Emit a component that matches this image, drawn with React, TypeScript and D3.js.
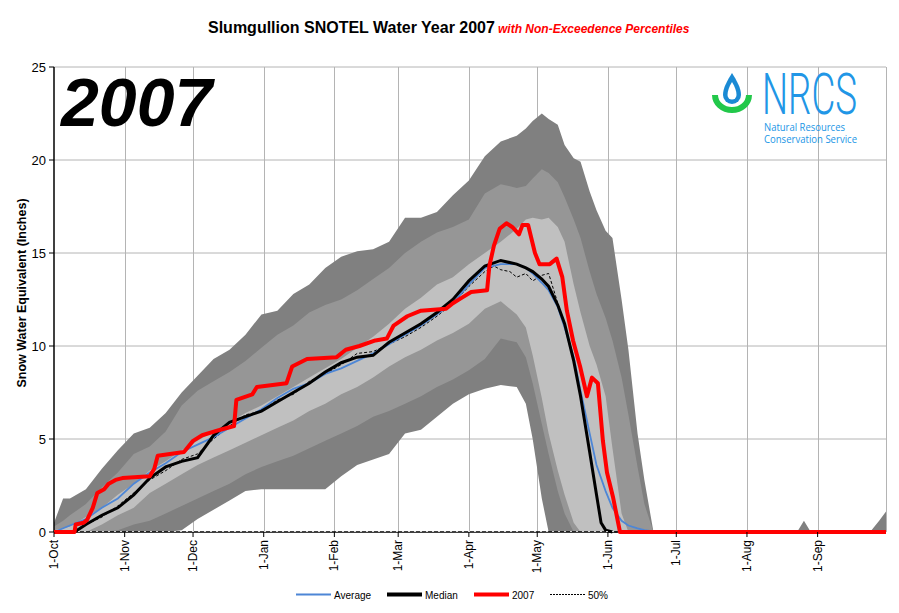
import React from "react";
import * as d3 from "d3";

// ---------- DATA ----------
const monthTickDays = [0, 31, 61, 92, 123, 151, 182, 212, 243, 273, 304, 335];
const monthTickLabels = ["1-Oct", "1-Nov", "1-Dec", "1-Jan", "1-Feb", "1-Mar", "1-Apr", "1-May", "1-Jun", "1-Jul", "1-Aug", "1-Sep"];
const yTicks = [0, 5, 10, 15, 20, 25];

const bandDays = [0, 4, 7, 14, 21, 28, 35, 42, 49, 56, 63, 70, 77, 84, 91, 98, 105, 112, 119, 126, 133, 140, 147, 154, 161, 168, 175, 182, 189, 196, 203, 207, 210, 214, 217, 221, 224, 228, 231, 235, 238, 242, 245, 249, 252, 256, 259, 263, 266, 300, 326, 329, 332, 358, 362, 365];
const bandMax = [0.5, 1.8, 1.8, 2.3, 3.4, 4.4, 5.3, 5.6, 6.4, 7.5, 8.4, 9.3, 9.8, 10.6, 11.7, 11.9, 12.8, 13.3, 14.2, 14.8, 15.1, 15.2, 15.6, 16.9, 16.9, 17.2, 18.1, 18.9, 20.2, 21.0, 21.3, 21.7, 22.1, 22.5, 22.2, 21.9, 20.8, 20.1, 19.9, 18.3, 17.3, 16.2, 15.8, 12.5, 9.8, 5.3, 2.8, 0, 0, 0, 0, 0.6, 0, 0, 0.6, 1.1];
const bandP90 = [0.3, 0.6, 0.9, 1.5, 2.4, 3.2, 4.2, 4.6, 5.4, 6.8, 7.6, 8.1, 8.6, 9.2, 9.9, 10.6, 11.1, 11.8, 12.2, 12.5, 13.0, 13.6, 14.2, 15.0, 15.6, 16.1, 16.4, 16.8, 18.2, 18.7, 18.5, 18.6, 19.0, 19.5, 19.3, 18.8, 18.0, 16.8, 15.8, 14.0, 12.8, 11.5, 10.3, 8.3, 6.3, 3.5, 1.5, 0, 0, 0, 0, 0, 0, 0, 0, 0];
const bandP70 = [0.1, 0.2, 0.3, 0.8, 1.3, 2.0, 2.6, 3.3, 3.8, 4.4, 4.9, 5.4, 5.9, 6.4, 6.8, 7.3, 7.8, 8.3, 8.8, 9.3, 9.9, 10.5, 11.2, 12.0, 12.6, 13.3, 13.7, 14.4, 15.0, 15.6, 16.3, 16.8, 16.9, 16.8, 16.9, 16.4, 15.6, 13.3, 11.8, 10.0, 9.0, 7.3, 4.5, 1.0, 0, 0, 0, 0, 0, 0, 0, 0, 0, 0, 0, 0];
const bandP30 = [0, 0, 0, 0, 0.4, 0.9, 1.3, 2.1, 2.6, 3.1, 3.6, 4.0, 4.4, 4.8, 5.2, 5.6, 6.0, 6.5, 6.9, 7.4, 7.8, 8.3, 8.9, 9.4, 9.8, 10.3, 10.7, 11.2, 12.0, 12.4, 11.7, 11.0, 9.5, 7.2, 5.3, 3.3, 2.0, 0.5, 0, 0, 0, 0, 0, 0, 0, 0, 0, 0, 0, 0, 0, 0, 0, 0, 0, 0];
const bandP10 = [0, 0, 0, 0, 0, 0.1, 0.4, 0.6, 1.0, 1.4, 1.8, 2.2, 2.6, 3.1, 3.5, 3.8, 4.1, 4.5, 4.9, 5.3, 5.7, 6.2, 6.5, 6.9, 7.3, 7.8, 8.2, 8.7, 9.3, 10.4, 10.2, 9.4, 8.0, 5.8, 4.2, 2.2, 1.0, 0, 0, 0, 0, 0, 0, 0, 0, 0, 0, 0, 0, 0, 0, 0, 0, 0, 0, 0];
const bandMin = [0, 0, 0, 0, 0, 0, 0, 0, 0, 0.1, 0.7, 1.2, 1.7, 2.2, 2.3, 2.3, 2.3, 2.3, 2.3, 3.0, 3.6, 3.9, 4.2, 5.3, 5.5, 6.2, 6.9, 7.4, 7.7, 7.9, 7.8, 6.9, 5.0, 1.8, 0, 0, 0, 0, 0, 0, 0, 0, 0, 0, 0, 0, 0, 0, 0, 0, 0, 0, 0, 0, 0, 0];

const averageSeries: [number, number][] = [[0, 0], [7, 0.35], [14, 0.7], [21, 1.3], [28, 1.8], [35, 2.6], [42, 3.2], [49, 3.7], [56, 4.3], [63, 4.7], [70, 5.1], [77, 5.6], [84, 6.1], [91, 6.6], [98, 7.2], [105, 7.7], [112, 8.0], [119, 8.5], [126, 8.8], [133, 9.2], [140, 9.6], [147, 10.1], [154, 10.6], [161, 11.1], [168, 11.7], [175, 12.3], [182, 13.3], [189, 14.2], [196, 14.4], [203, 14.4], [207, 14.2], [210, 13.9], [214, 13.4], [217, 13.0], [221, 12.1], [224, 11.0], [228, 9.4], [231, 7.6], [235, 5.3], [238, 3.6], [242, 2.2], [245, 1.3], [249, 0.6], [252, 0.35], [256, 0.2], [259, 0.1], [263, 0.03], [266, 0]];
const medianSeries: [number, number][] = [[0, 0], [9, 0], [14, 0.4], [21, 0.9], [28, 1.3], [35, 2.0], [42, 2.9], [49, 3.5], [56, 3.8], [63, 4.0], [70, 5.2], [77, 5.9], [84, 6.2], [91, 6.5], [98, 7.0], [105, 7.5], [112, 8.0], [119, 8.6], [126, 9.1], [133, 9.4], [140, 9.5], [147, 10.2], [154, 10.7], [161, 11.2], [168, 11.8], [175, 12.5], [182, 13.5], [189, 14.3], [196, 14.6], [203, 14.4], [207, 14.2], [210, 14.0], [214, 13.6], [217, 13.2], [221, 12.2], [224, 11.2], [228, 9.2], [231, 7.3], [235, 4.3], [238, 2.0], [240, 0.5], [242, 0.1], [245, 0]];
const p50Series: [number, number][] = [[0, 0], [9, 0], [14, 0.4], [21, 0.8], [28, 1.4], [35, 2.1], [42, 2.8], [49, 3.3], [56, 3.9], [63, 4.2], [70, 5.0], [77, 5.7], [84, 6.3], [91, 6.5], [98, 7.1], [105, 7.4], [112, 8.1], [119, 8.5], [126, 9.0], [133, 9.6], [140, 9.7], [147, 10.1], [154, 10.5], [161, 11.0], [168, 11.6], [175, 12.3], [182, 13.2], [189, 14.0], [193, 14.3], [196, 14.1], [200, 14.0], [203, 13.7], [207, 13.9], [210, 13.5], [214, 13.8], [217, 13.9], [221, 12.3], [224, 11.2], [228, 9.2], [231, 7.3], [235, 4.3], [238, 2.0], [240, 0.5], [242, 0.1], [245, 0], [365, 0]];
const wy2007Series: [number, number][] = [[0, 0], [9, 0], [9.5, 0.4], [13, 0.5], [14.5, 0.65], [17, 1.3], [19, 2.1], [22, 2.3], [24, 2.6], [27, 2.8], [30, 2.9], [42, 3.0], [44, 3.4], [45.5, 4.1], [57, 4.3], [61, 4.9], [65, 5.2], [73, 5.5], [79, 5.7], [80, 7.1], [87, 7.4], [89, 7.8], [102, 8.0], [104.5, 8.9], [111, 9.3], [124, 9.4], [128, 9.8], [134, 10.0], [141, 10.3], [146, 10.4], [149, 11.1], [155, 11.6], [161, 11.9], [172, 12.0], [175, 12.3], [179, 12.6], [183, 12.9], [190, 13.0], [191, 14.3], [193, 15.4], [195.5, 16.3], [198.5, 16.6], [201, 16.4], [204, 16.0], [205.5, 16.5], [208, 16.5], [211, 15.0], [213, 14.4], [217.5, 14.4], [220.5, 14.7], [223, 13.7], [225, 11.9], [227.7, 10.3], [230.8, 8.9], [233.8, 7.3], [236, 8.3], [238.6, 8.0], [240.8, 4.9], [242.6, 3.2], [245.2, 1.9], [248.3, 0], [365, 0]];

const legendItems = [
  { label: "Average", color: "#4d86d6", width: 2, dash: "" },
  { label: "Median", color: "#000000", width: 4, dash: "" },
  { label: "2007", color: "#ff0000", width: 4, dash: "" },
  { label: "50%", color: "#000000", width: 1, dash: "2,1" },
];

// ---------- LAYOUT ----------
const W = 899, H = 613;
const L = 54, R = 886, T = 67, B = 532;
const FONT = "Arial, 'Liberation Sans', sans-serif";

export default function App() {
  const x = d3.scaleLinear().domain([0, 365]).range([L, R]);
  const y = d3.scaleLinear().domain([0, 25]).range([B, T]);

  const bandArea = (lo: number[], hi: number[]) =>
    d3.area<number>()
      .x((_, i) => x(bandDays[i]))
      .y0((_, i) => y(lo[i]))
      .y1((_, i) => y(hi[i]))(bandDays.map((_, i) => i)) || "";

  const line = d3.line<[number, number]>().x((d) => x(d[0])).y((d) => y(d[1]));

  const legendX = [296, 387, 474, 550];

  return (
    <svg width={W} height={H} style={{ position: "absolute", left: 0, top: 0, background: "#fff" }} fontFamily={FONT}>
      <rect x={0} y={0} width={W} height={H} fill="#fff" />
      {/* gridlines */}
      {yTicks.filter((t) => t > 0).map((t) => (
        <line key={"gy" + t} x1={L} x2={R} y1={y(t)} y2={y(t)} stroke="#b4b4b4" strokeWidth={1} />
      ))}
      {[...monthTickDays.slice(1), 365].map((d) => (
        <line key={"gx" + d} x1={Math.round(x(d)) + 0.5} x2={Math.round(x(d)) + 0.5} y1={T} y2={B} stroke="#b4b4b4" strokeWidth={1} />
      ))}

      {/* percentile bands */}
      <path d={bandArea(bandMin, bandMax)} fill="#808080" />
      <path d={bandArea(bandP10, bandP90)} fill="#969696" />
      <path d={bandArea(bandP30, bandP70)} fill="#c0c0c0" />

      {/* lines */}
      <path d={line(p50Series) || ""} fill="none" stroke="#000" strokeWidth={1} strokeDasharray="3,2" />
      <path d={line(averageSeries) || ""} fill="none" stroke="#4d86d6" strokeWidth={1.8} />
      <path d={line(medianSeries) || ""} fill="none" stroke="#000" strokeWidth={3} />

      {/* axes */}
      <line x1={L} x2={L} y1={T} y2={B} stroke="#000" strokeWidth={1.5} />
      <line x1={L} x2={R} y1={B} y2={B} stroke="#000" strokeWidth={1.5} />
      <line x1={L} x2={R} y1={B - 0.5} y2={B - 0.5} stroke="#fff" strokeWidth={0.8} strokeDasharray="2,4" />
      <path d={line(wy2007Series) || ""} fill="none" stroke="#ff0000" strokeWidth={4} strokeLinejoin="round" />
      {yTicks.map((t) => (
        <g key={"yt" + t}>
          <line x1={L - 5} x2={L} y1={y(t)} y2={y(t)} stroke="#000" />
          <text x={46} y={y(t) + 5} textAnchor="end" fontSize={13}>{t}</text>
        </g>
      ))}
      {monthTickDays.map((d, i) => (
        <g key={"xt" + d}>
          <line x1={x(d)} x2={x(d)} y1={B} y2={B + 5} stroke="#000" />
          <text transform={`translate(${x(d) + 4},540) rotate(-90)`} textAnchor="end" fontSize={12}>{monthTickLabels[i]}</text>
        </g>
      ))}
      <text transform="translate(26,293) rotate(-90)" textAnchor="middle" fontSize={12.5} fontWeight="bold">Snow Water Equivalent (Inches)</text>

      {/* title */}
      <text x={208} y={33} fontSize={16} fontWeight="bold">Slumgullion SNOTEL Water Year 2007</text>
      <text x={498} y={33} fontSize={12} fontWeight="bold" fontStyle="italic" fill="#ff0000">with Non-Exceedence Percentiles</text>

      {/* big year */}
      <text x={61} y={126} fontSize={68} fontWeight="bold" fontStyle="italic">2007</text>

      {/* NRCS logo */}
      <g>
        <path d="M732,73 C727,81 723,88 723,95 A9,9 0 0 0 741,95 C741,88 737,81 732,73 Z" fill="#1a8ad4" />
        <path d="M732,82 C729,87 727.5,91 727.5,95 A4.5,4.5 0 0 0 736.5,95 C736.5,91 735,87 732,82 Z" fill="#fff" />
        <path d="M712,95 A20,18 0 0 0 752,95 L746,95 A14,12 0 0 1 718,95 Z" fill="#22c84a" />
        <text transform="translate(762,114) scale(1,1.42)" fontSize={40} fontFamily="Roboto, sans-serif" fontWeight={300} fill="#2196e6" textLength={95} lengthAdjust="spacingAndGlyphs">NRCS</text>
        <text x={764} y={131} fontSize={10} fontFamily="'Open Sans', sans-serif" fill="#2196e6" textLength={81} lengthAdjust="spacingAndGlyphs">Natural Resources</text>
        <text x={764} y={143} fontSize={10} fontFamily="'Open Sans', sans-serif" fill="#2196e6" textLength={93} lengthAdjust="spacingAndGlyphs">Conservation Service</text>
      </g>

      {/* legend */}
      {legendItems.map((it, i) => (
        <g key={it.label}>
          <line x1={legendX[i]} x2={legendX[i] + 35} y1={594.5} y2={594.5} stroke={it.color} strokeWidth={it.width} strokeDasharray={it.dash || undefined} />
          <text x={legendX[i] + 38} y={598.5} fontSize={10}>{it.label}</text>
        </g>
      ))}
    </svg>
  );
}
